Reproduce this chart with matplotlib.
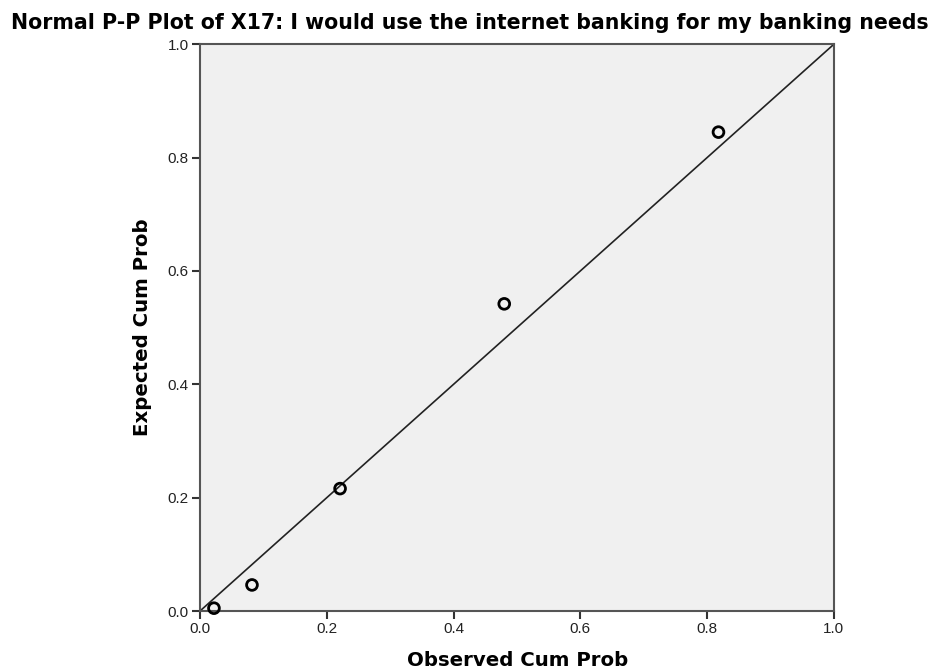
import matplotlib
matplotlib.use("Agg")
import matplotlib.pyplot as plt

plt.rcParams['font.family'] = ['Liberation Sans', 'DejaVu Sans']

# Observed vs expected cumulative probabilities
observed = [0.022, 0.082, 0.221, 0.480, 0.818]
expected = [0.005, 0.046, 0.216, 0.542, 0.845]
ticks = [0.0, 0.2, 0.4, 0.6, 0.8, 1.0]
tick_labels = ["0.0", "0.2", "0.4", "0.6", "0.8", "1.0"]

fig = plt.figure(figsize=(9.39, 6.71), dpi=100)
ax = fig.add_axes([0.213, 0.0894, 0.675, 0.8446])
ax.set_facecolor('#F0F0F0')

ax.plot([0, 1], [0, 1], color='#222222', lw=1.2, zorder=2)
ax.scatter(observed, expected, s=60, facecolors='none', edgecolors='black',
           linewidths=2.0, zorder=3, clip_on=False)

ax.set_xlim(0, 1)
ax.set_ylim(0, 1)
ax.set_xticks(ticks)
ax.set_xticklabels(tick_labels)
ax.set_yticks(ticks)
ax.set_yticklabels(tick_labels)
ax.tick_params(direction='out', length=6, width=1.5, color='#333333',
               labelsize=11, labelcolor='#222222', pad=2)
for side in ['left', 'bottom', 'right', 'top']:
    ax.spines[side].set_color('#555555')
    ax.spines[side].set_linewidth(1.5)

label_font = dict(family='DejaVu Sans', fontsize=14.2, fontweight='bold')
fig.text(518 / 939, 1 - 666 / 671, 'Observed Cum Prob', ha='center', va='baseline', **label_font)
fig.text(142.5 / 939, 1 - 327 / 671, 'Expected Cum Prob', ha='center', va='center',
         rotation=90, **label_font)
fig.text(470 / 939, 1 - 29 / 671,
         'Normal P-P Plot of X17: I would use the internet banking for my banking needs',
         ha='center', va='baseline', family='DejaVu Sans', fontsize=14.8, fontweight='bold')

fig.savefig('out.png', dpi=100)
